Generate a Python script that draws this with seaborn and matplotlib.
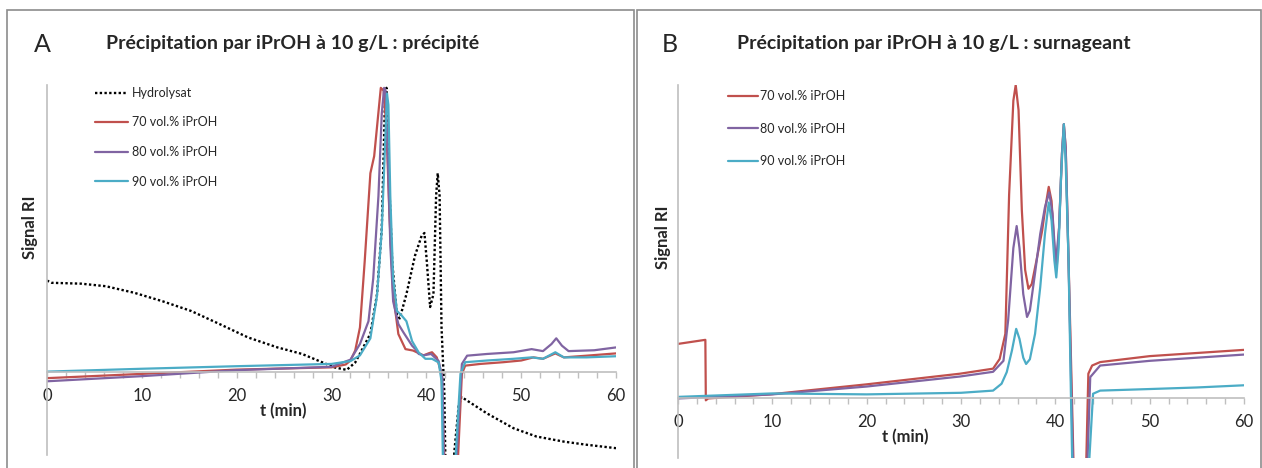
import matplotlib
matplotlib.use("Agg")
import matplotlib.pyplot as plt
from matplotlib.patches import Rectangle
from matplotlib.ticker import MultipleLocator
import seaborn as sns

# ---- data (t in min, signal in arbitrary units) ----
# panel A : precipitate
a_hydro_t = [0, 0.5, 3.6, 6.2, 9.2, 12.2, 15.2, 18.2, 21.2, 24.3, 26.9, 29.0, 30.3, 31.6, 32.5, 33.0,
             34.1, 34.8, 35.3, 35.65, 35.8, 36.0, 36.4, 36.9, 37.2, 37.9, 38.8, 39.5, 39.8, 40.05,
             40.4, 40.75, 41.03, 41.2, 41.4, 41.6, 41.9, 42.05, 42.8, 42.95, 43.4, 43.7, 46.4, 49.2,
             51.6, 54.5, 56.9, 60.0]
a_hydro_v = [0.323, 0.315, 0.312, 0.303, 0.28, 0.25, 0.216, 0.17, 0.123, 0.088, 0.065, 0.036, 0.018,
             0.009, 0.035, 0.066, 0.136, 0.275, 0.506, 0.97, 1.0, 0.74, 0.39, 0.2, 0.19, 0.275, 0.41,
             0.48, 0.49, 0.39, 0.23, 0.275, 0.62, 0.70, 0.62, 0.16, -0.074, -0.4, -0.4, -0.28, -0.12,
             -0.086, -0.144, -0.196, -0.225, -0.243, -0.254, -0.266]

a_70_t = [0, 10, 20, 30, 31.5, 32.0, 32.5, 33.0, 33.5, 34.1, 34.5, 34.85, 35.2, 35.5, 35.8, 36.1,
          36.5, 37.05, 37.8, 38.6, 39.7, 40.3, 40.6, 41.1, 41.6, 42.0, 43.2, 43.75, 44.1, 45.7,
          48.1, 50.0, 51.3, 52.3, 53.6, 54.5, 56.9, 60.0]
a_70_v = [-0.02, -0.005, 0.01, 0.018, 0.028, 0.042, 0.077, 0.158, 0.39, 0.70, 0.76, 0.88, 1.0, 0.99,
          0.855, 0.56, 0.275, 0.135, 0.082, 0.077, 0.06, 0.068, 0.071, 0.053, -0.004, -0.4, -0.4,
          -0.005, 0.024, 0.03, 0.036, 0.042, 0.053, 0.048, 0.067, 0.053, 0.059, 0.067]

a_80_t = [0, 10, 20, 30, 32.0, 33.0, 33.9, 34.4, 34.95, 35.3, 35.55, 35.7, 35.9, 36.2, 36.5, 37.05,
          37.6, 38.5, 38.9, 39.2, 39.7, 40.5, 41.3, 41.7, 41.9, 43.0, 43.75, 44.3, 46.4, 49.2,
          51.1, 52.3, 53.2, 53.7, 54.3, 55.0, 57.7, 60.0]
a_80_v = [-0.031, -0.013, 0.008, 0.02, 0.045, 0.1, 0.18, 0.33, 0.62, 0.91, 1.0, 0.99, 0.8, 0.45,
          0.25, 0.17, 0.14, 0.094, 0.08, 0.065, 0.06, 0.065, 0.04, -0.02, -0.4, -0.4, 0.03, 0.059,
          0.065, 0.071, 0.082, 0.075, 0.1, 0.12, 0.094, 0.075, 0.078, 0.088]

a_90_t = [0, 10, 20, 30, 32.0, 33.0, 34.1, 34.8, 35.3, 35.65, 35.85, 36.0, 36.2, 36.5, 36.9, 37.4,
          37.9, 38.5, 39.2, 39.9, 40.6, 41.3, 41.6, 41.8, 42.9, 43.6, 44.1, 46.4, 49.2, 51.1,
          52.3, 53.6, 54.5, 56.9, 60.0]
a_90_v = [0.003, 0.013, 0.022, 0.03, 0.04, 0.06, 0.12, 0.27, 0.5, 0.8, 0.98, 0.94, 0.62, 0.33,
          0.216, 0.2, 0.18, 0.11, 0.07, 0.048, 0.048, 0.035, -0.03, -0.4, -0.4, -0.005, 0.036,
          0.042, 0.048, 0.053, 0.048, 0.071, 0.053, 0.053, 0.057]

# panel B : supernatant
b_70_t = [0, 2.9, 2.95, 3.2, 9.75, 20, 29.9, 33.4, 34.1, 34.7, 35.1, 35.55, 35.8, 36.1, 36.45,
          36.8, 37.15, 37.5, 38.0, 38.6, 39.0, 39.3, 39.6, 39.9, 40.15, 40.4, 40.7, 40.9, 41.1,
          41.4, 41.75, 42.0, 43.2, 43.5, 43.9, 44.75, 50, 55, 60]
b_70_v = [0.174, 0.187, -0.006, 0.0, 0.013, 0.045, 0.079, 0.095, 0.126, 0.206, 0.65, 0.95, 1.0,
          0.92, 0.6, 0.41, 0.35, 0.365, 0.44, 0.535, 0.62, 0.675, 0.63, 0.48, 0.42, 0.545, 0.78,
          0.875, 0.8, 0.44, 0.015, -0.3, -0.3, 0.079, 0.105, 0.116, 0.135, 0.145, 0.155]

b_80_t = [0, 10, 20, 29.9, 33.4, 34.5, 35.0, 35.55, 35.9, 36.2, 36.6, 37.0, 37.3, 37.85, 38.4,
          38.9, 39.35, 39.7, 40.05, 40.4, 40.7, 40.9, 41.1, 41.4, 41.7, 41.95, 43.3, 43.7, 44.75,
          50, 55, 60]
b_80_v = [0.0, 0.013, 0.038, 0.07, 0.085, 0.12, 0.25, 0.48, 0.55, 0.48, 0.333, 0.26, 0.28, 0.4,
          0.525, 0.61, 0.657, 0.59, 0.43, 0.545, 0.78, 0.875, 0.8, 0.44, 0.015, -0.3, -0.3, 0.068,
          0.105, 0.12, 0.13, 0.14]

b_90_t = [0, 10, 20, 30, 33.4, 34.3, 34.85, 35.4, 35.85, 36.2, 36.6, 36.9, 37.3, 37.85, 38.4,
          38.9, 39.3, 39.6, 39.9, 40.1, 40.35, 40.6, 40.9, 41.1, 41.4, 41.65, 41.85, 43.4, 44.0,
          44.75, 50, 55, 60]
b_90_v = [0.005, 0.016, 0.013, 0.018, 0.025, 0.047, 0.084, 0.153, 0.222, 0.19, 0.13, 0.11, 0.125,
          0.206, 0.355, 0.525, 0.625, 0.567, 0.44, 0.386, 0.48, 0.705, 0.875, 0.75, 0.44, 0.015,
          -0.3, -0.3, 0.015, 0.025, 0.03, 0.035, 0.042]

labels = ["70 vol.% iPrOH", "80 vol.% iPrOH", "90 vol.% iPrOH"]
colors = ["#c0504d", "#8064a2", "#4bacc6"]
titles = ["Précipitation par iPrOH à 10 g/L : précipité",
          "Précipitation par iPrOH à 10 g/L : surnageant"]

sns.set_theme(style="white")
plt.rcParams["font.family"] = ["Lato", "DejaVu Sans"]

W, H = 1262, 468
fig = plt.figure(figsize=(W / 100, H / 100), dpi=100)


def fx(px):
    return px / W


def fy(py):
    return 1 - py / H


grey = "#bfbfbf"

# panel frames
fig.add_artist(Rectangle((fx(7), fy(472)), fx(634) - fx(7), fy(10) - fy(472),
                         transform=fig.transFigure, fill=False, edgecolor="#8c8c8c", lw=1.2))
fig.add_artist(Rectangle((fx(637), fy(472)), fx(1261) - fx(637), fy(10) - fy(472),
                         transform=fig.transFigure, fill=False, edgecolor="#8c8c8c", lw=1.2))

axA = fig.add_axes([fx(47), fy(455), fx(616) - fx(47), fy(85) - fy(455)])
axB = fig.add_axes([fx(678), fy(458), fx(1244) - fx(678), fy(85) - fy(458)])

sns.lineplot(x=a_hydro_t, y=a_hydro_v, ax=axA, color="black", lw=1.7, linestyle=(0, (1, 1)),
             label="Hydrolysat", sort=False, estimator=None)
for t, v, lab, c in zip([a_70_t, a_80_t, a_90_t], [a_70_v, a_80_v, a_90_v], labels, colors):
    sns.lineplot(x=t, y=v, ax=axA, color=c, lw=1.6, label=lab, sort=False, estimator=None)

for t, v, lab, c in zip([b_70_t, b_80_t, b_90_t], [b_70_v, b_80_v, b_90_v], labels, colors):
    sns.lineplot(x=t, y=v, ax=axB, color=c, lw=1.6, label=lab, sort=False, estimator=None)

axA.set_ylim(-0.29, 1.01)
axB.set_ylim(-0.19, 1.0)

for ax in (axA, axB):
    ax.set_xlim(0, 60)
    ax.set_facecolor("none")
    ax.set_yticks([])
    ax.set_xticks(range(0, 61, 10))
    ax.xaxis.set_minor_locator(MultipleLocator(2))
    ax.spines["top"].set_visible(False)
    ax.spines["right"].set_visible(False)
    ax.spines["bottom"].set_position(("data", 0))
    ax.spines["bottom"].set_color(grey)
    ax.spines["left"].set_color(grey)
    ax.spines["bottom"].set_linewidth(1.2)
    ax.spines["left"].set_linewidth(1.2)
    ax.tick_params(axis="x", which="both", direction="out", length=4, width=1, color=grey,
                   labelsize=12, pad=7, bottom=True)
    ax.set_xlabel("")
    ax.set_ylabel("")

axA.legend(loc="upper left", bbox_to_anchor=(fx(95), fy(87)), bbox_transform=fig.transFigure,
           frameon=False, fontsize=9, handlelength=2.6, handletextpad=0.35, labelspacing=1.4,
           borderpad=0, borderaxespad=0)
axB.legend(loc="upper left", bbox_to_anchor=(fx(728), fy(90)), bbox_transform=fig.transFigure,
           frameon=False, fontsize=9, handlelength=2.4, handletextpad=0.2, labelspacing=1.65,
           borderpad=0, borderaxespad=0)

# panel letters, titles and axis labels
fig.text(fx(42), fy(45), "A", fontsize=18, ha="center", va="center")
fig.text(fx(670), fy(45), "B", fontsize=18, ha="center", va="center")
fig.text(fx(293), fy(43), titles[0], fontsize=14, fontweight="bold", ha="center", va="center")
fig.text(fx(934), fy(43), titles[1], fontsize=14, fontweight="bold", ha="center", va="center")
fig.text(fx(30), fy(227), "Signal RI", fontsize=12, fontweight="bold", rotation=90,
         ha="center", va="center")
fig.text(fx(663), fy(237), "Signal RI", fontsize=12, fontweight="bold", rotation=90,
         ha="center", va="center")
fig.text(fx(283), fy(411), "t (min)", fontsize=12, fontweight="bold", ha="center", va="center")
fig.text(fx(905), fy(437), "t (min)", fontsize=12, fontweight="bold", ha="center", va="center")

fig.savefig("out.png", dpi=100)
